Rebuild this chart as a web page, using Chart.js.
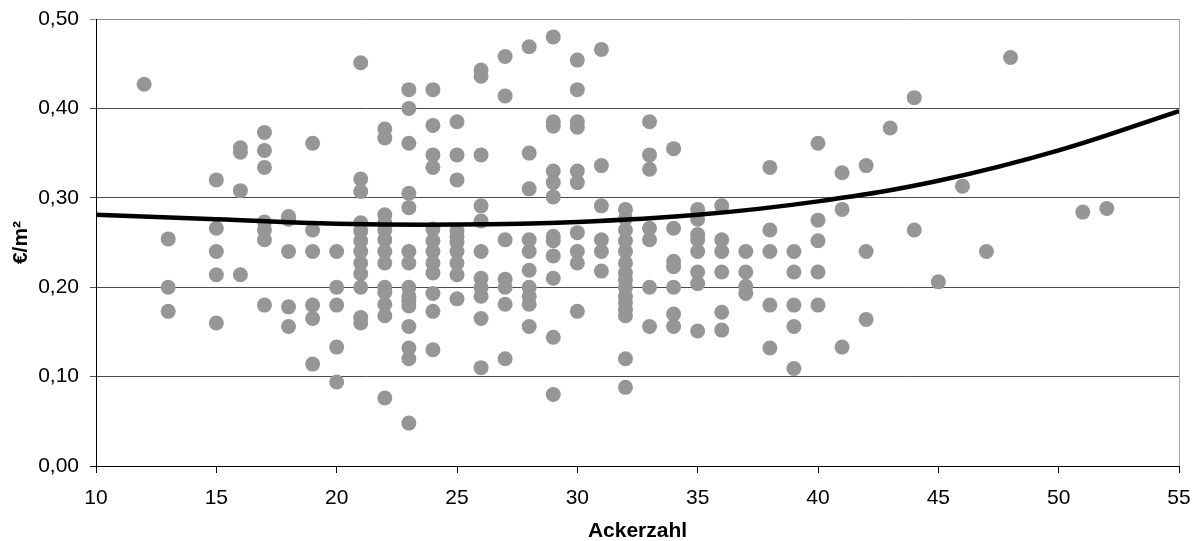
<!DOCTYPE html>
<html lang="de">
<head>
<meta charset="utf-8">
<title>Ackerzahl</title>
<script src="https://cdn.jsdelivr.net/npm/chart.js@4.4.1/dist/chart.umd.min.js"></script>
<style>
  html, body { margin: 0; padding: 0; background: #fff; }
  #wrap { width: 1200px; height: 541px; position: relative; }
</style>
</head>
<body>
<div id="wrap"><canvas id="chart"></canvas></div>
<script>
const ackerzahl = [
  12,
  13, 13, 13,
  15, 15, 15, 15, 15,
  16, 16, 16, 16,
  17, 17, 17, 17, 17, 17, 17,
  18, 18, 18, 18, 18,
  19, 19, 19, 19, 19, 19,
  20, 20, 20, 20, 20,
  21, 21, 21, 21, 21, 21, 21, 21, 21, 21, 21, 21,
  22, 22, 22, 22, 22, 22, 22, 22, 22, 22, 22, 22, 22,
  23, 23, 23, 23, 23, 23, 23, 23, 23, 23, 23, 23, 23, 23, 23,
  24, 24, 24, 24, 24, 24, 24, 24, 24, 24, 24, 24,
  25, 25, 25, 25, 25, 25, 25, 25, 25, 25,
  26, 26, 26, 26, 26, 26, 26, 26, 26, 26, 26,
  27, 27, 27, 27, 27, 27, 27,
  28, 28, 28, 28, 28, 28, 28, 28, 28, 28,
  29, 29, 29, 29, 29, 29, 29, 29, 29, 29, 29, 29,
  30, 30, 30, 30, 30, 30, 30, 30, 30, 30,
  31, 31, 31, 31, 31, 31,
  32, 32, 32, 32, 32, 32, 32, 32, 32, 32, 32, 32, 32, 32, 32,
  33, 33, 33, 33, 33, 33, 33,
  34, 34, 34, 34, 34, 34, 34,
  35, 35, 35, 35, 35, 35, 35, 35,
  36, 36, 36, 36, 36, 36,
  37, 37, 37, 37,
  38, 38, 38, 38, 38,
  39, 39, 39, 39, 39,
  40, 40, 40, 40, 40,
  41, 41, 41,
  42, 42, 42,
  43,
  44, 44,
  45,
  46,
  47,
  48,
  51,
  52
];

const preis = [
  0.427,
  0.254, 0.200, 0.173,
  0.320, 0.266, 0.240, 0.214, 0.160,
  0.356, 0.351, 0.308, 0.214,
  0.373, 0.353, 0.334, 0.273, 0.264, 0.253, 0.180,
  0.279, 0.276, 0.240, 0.178, 0.156,
  0.361, 0.264, 0.240, 0.180, 0.165, 0.114,
  0.240, 0.200, 0.180, 0.133, 0.094,
  0.451, 0.321, 0.307, 0.272, 0.263, 0.252, 0.240, 0.227, 0.215, 0.200, 0.166, 0.160,
  0.377, 0.367, 0.281, 0.272, 0.264, 0.253, 0.240, 0.227, 0.200, 0.194, 0.181, 0.168, 0.076,
  0.421, 0.400, 0.361, 0.305, 0.289, 0.240, 0.227, 0.200, 0.190, 0.185, 0.179, 0.156, 0.132, 0.120, 0.048,
  0.421, 0.381, 0.348, 0.334, 0.265, 0.252, 0.240, 0.227, 0.216, 0.193, 0.173, 0.130,
  0.385, 0.348, 0.320, 0.263, 0.257, 0.250, 0.240, 0.227, 0.214, 0.187,
  0.443, 0.436, 0.348, 0.291, 0.274, 0.240, 0.210, 0.200, 0.190, 0.165, 0.110,
  0.458, 0.414, 0.253, 0.209, 0.200, 0.181, 0.120,
  0.469, 0.350, 0.310, 0.253, 0.240, 0.219, 0.200, 0.190, 0.181, 0.156,
  0.480, 0.385, 0.380, 0.330, 0.317, 0.301, 0.257, 0.252, 0.235, 0.210, 0.144, 0.080,
  0.454, 0.421, 0.385, 0.379, 0.330, 0.317, 0.261, 0.240, 0.227, 0.173,
  0.466, 0.336, 0.291, 0.253, 0.240, 0.218,
  0.287, 0.277, 0.264, 0.252, 0.240, 0.227, 0.216, 0.208, 0.200, 0.190, 0.183, 0.175, 0.168, 0.120, 0.088,
  0.385, 0.348, 0.332, 0.266, 0.253, 0.200, 0.156,
  0.355, 0.266, 0.229, 0.223, 0.200, 0.170, 0.156,
  0.287, 0.276, 0.259, 0.253, 0.240, 0.217, 0.204, 0.151,
  0.291, 0.253, 0.240, 0.217, 0.172, 0.152,
  0.240, 0.217, 0.201, 0.193,
  0.334, 0.264, 0.240, 0.180, 0.132,
  0.240, 0.217, 0.180, 0.156, 0.109,
  0.361, 0.275, 0.252, 0.217, 0.180,
  0.328, 0.287, 0.133,
  0.336, 0.240, 0.164,
  0.378,
  0.412, 0.264,
  0.206,
  0.313,
  0.240,
  0.457,
  0.284,
  0.288
];

const trendX = [10, 15, 20, 25, 30, 35, 40, 45, 50, 55];
const trendY = [0.281, 0.276, 0.271, 0.270, 0.273, 0.281, 0.296, 0.319, 0.353, 0.397];

const xTicks = [10, 15, 20, 25, 30, 35, 40, 45, 50, 55];
const yTicks = [0, 0.1, 0.2, 0.3, 0.4, 0.5];

const FONT = "'Liberation Sans', Arial, sans-serif";

const points = ackerzahl.map((x, i) => ({ x: x, y: preis[i] }));
const trend = trendX.map((x, i) => ({ x: x, y: trendY[i] }));

function gridColor(ctx) {
  const v = Math.round(ctx.tick.value * 100);
  if (v === 50) return "#8c8c8c";
  if (v === 0) return "#000";
  return "#4a4a4a";
}

// layout padding alone decides where the plot box sits
function noAutoPadding(scale) {
  scale.paddingTop = 0;
  scale.paddingBottom = 0;
  scale.paddingLeft = 0;
  scale.paddingRight = 0;
}

new Chart(document.getElementById("chart"), {
  type: "scatter",
  data: {
    datasets: [
      {
        type: "line",
        label: "Trend",
        data: trend,
        borderColor: "#000",
        borderWidth: 4.5,
        pointRadius: 0,
        tension: 0.4,
        fill: false,
        order: 0,
      },
      {
        label: "€/m²",
        data: points,
        backgroundColor: "#969696",
        borderWidth: 0,
        pointRadius: 7.5,
        pointHoverRadius: 7.5,
        order: 1,
      },
    ],
  },
  options: {
    responsive: true,
    maintainAspectRatio: false,
    animation: false,
    events: [],
    layout: { padding: { top: 19, right: 21, bottom: 0, left: 0 } },
    plugins: {
      legend: { display: false },
      tooltip: { enabled: false },
    },
    scales: {
      x: {
        type: "linear",
        min: 10,
        max: 55,
        afterBuildTicks: (scale) => {
          scale.ticks = xTicks.map((v) => ({ value: v }));
        },
        afterFit: (scale) => {
          scale.height = 75;
          noAutoPadding(scale);
        },
        grid: {
          drawOnChartArea: true,
          color: (ctx) => (ctx.tick.value === 55 ? "#a8a8a8" : "rgba(0,0,0,0)"),
          tickColor: "#000",
          tickLength: 7,
        },
        border: { display: true, color: "#000", width: 1 },
        ticks: {
          color: "#000",
          padding: 13,
          font: { family: FONT, size: 21 },
          callback: (v) => String(v),
        },
        title: {
          display: true,
          text: "Ackerzahl",
          color: "#000",
          font: { family: FONT, size: 21, weight: "bold" },
          padding: { top: 0, bottom: -3 },
        },
      },
      y: {
        type: "linear",
        min: 0,
        max: 0.5,
        afterBuildTicks: (scale) => {
          scale.ticks = yTicks.map((v) => ({ value: v }));
        },
        afterFit: (scale) => {
          scale.width = 96;
          noAutoPadding(scale);
        },
        grid: {
          color: gridColor,
          tickColor: gridColor,
          tickLength: 6,
        },
        border: { display: true, color: "#000", width: 1 },
        ticks: {
          color: "#000",
          padding: 11,
          font: { family: FONT, size: 21 },
          callback: (v) => v.toFixed(2).replace(".", ","),
        },
        title: {
          display: true,
          text: "€/m²",
          color: "#000",
          font: { family: FONT, size: 21, weight: "bold" },
          padding: { top: 9, bottom: 0 },
        },
      },
    },
  },
});
</script>
</body>
</html>
